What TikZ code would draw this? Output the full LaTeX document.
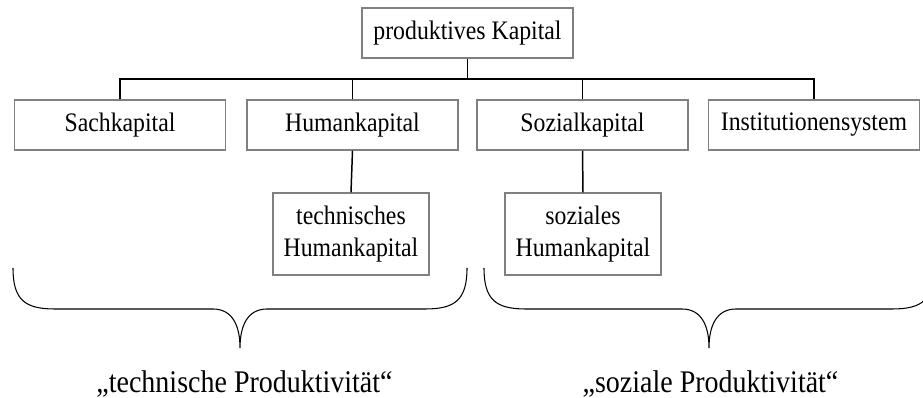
\documentclass[tikz,border=0pt]{standalone}
\usepackage{fontspec}
\setmainfont{Liberation Serif}[FakeStretch=0.89]
\usepackage{tikz}
\definecolor{boxgray}{gray}{0.5}

\tikzset{
  box/.style={draw=boxgray, line width=0.85pt, minimum width=4.22cm, minimum height=1cm,
    inner sep=0pt, align=center, font=\fontsize{15.2}{18.1}\selectfont},
  twobox/.style={box, minimum width=3.12cm, minimum height=1.64cm},
  conn/.style={black, line width=0.85pt},
  bracel/.style={black, line width=0.6pt},
  lab/.style={inner sep=0pt, anchor=base, font=\fontsize{17.9}{21}\selectfont}
}

\begin{document}
\begin{tikzpicture}[x=0.02cm, y=-0.02cm]
  \clip (0,0) rectangle (923,398);
  % boxes
  \node[box] (prod) at (467.5,33) {produktives Kapital};
  \node[box] (sach) at (120,125) {Sachkapital};
  \node[box] (human) at (352.5,125) {Humankapital};
  \node[box] (sozial) at (582.5,125) {Sozialkapital};
  \node[box] (inst) at (814,125) {Institutionensystem};
  \node[twobox] (techh) at (351,234) {technisches\\Humankapital};
  \node[twobox] (sozh) at (583,234) {soziales\\Humankapital};
  % tree lines
  \coordinate (bar) at (0,79);
  \draw[conn] (prod.south) -- (prod.south |- bar);
  \draw[conn] (sach.north) -- (sach.north |- bar) -- (inst.north |- bar) -- (inst.north);
  \draw[conn] (human.north) -- (human.north |- bar);
  \draw[conn] (sozial.north) -- (sozial.north |- bar);
  \draw[conn] (human.south) -- (techh.north);
  \draw[conn] (sozial.south) -- (sozh.north);
  % braces
  \draw[bracel] (13,268) .. controls (13,300) and (25,309) .. (55,309) -- (213,309)
    .. controls (232,309) and (240,325) .. (240,348)
    .. controls (240,325) and (248,309) .. (267,309) -- (425,309)
    .. controls (455,309) and (467,300) .. (467,268);
  \draw[bracel] (484,268) .. controls (484,300) and (496,309) .. (526,309) -- (682,309)
    .. controls (701,309) and (709,325) .. (709,348)
    .. controls (709,325) and (717,309) .. (736,309) -- (892,309)
    .. controls (922,309) and (934,300) .. (934,268);
  % labels
  \node[lab] (techp) at (244.5,393) {„technische Produktivität“};
  \node[lab] (sozp) at (710.5,393) {„soziale Produktivität“};
\end{tikzpicture}
\end{document}
